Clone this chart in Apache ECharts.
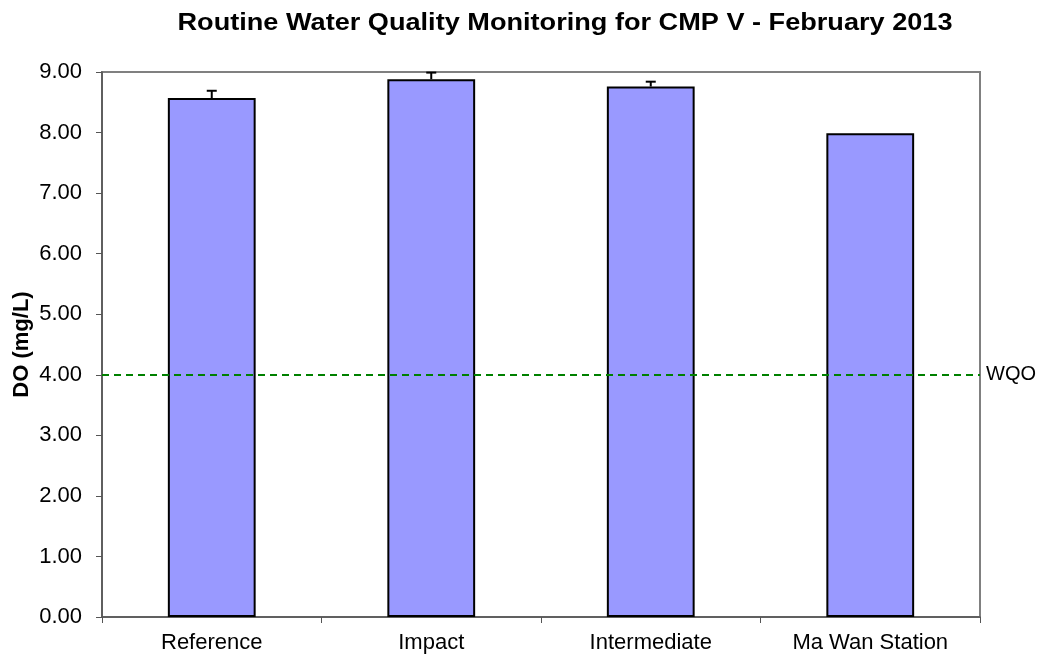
<!DOCTYPE html>
<html>
<head>
<meta charset="utf-8">
<title>Routine Water Quality Monitoring</title>
<script src="https://cdn.jsdelivr.net/npm/echarts@6/dist/echarts.min.js"></script>
<style>
  html, body { margin: 0; padding: 0; background: #fff; }
  #chart { width: 1042px; height: 656px; }
</style>
</head>
<body>
<div id="chart"></div>
<script>
// stations and DO means / upper error (mg/L)
const stations = ["Reference", "Impact", "Intermediate", "Ma Wan Station"];
const doValues = [8.57, 8.88, 8.76, 7.99];
const errorTop = [8.69, 8.99, 8.84, 7.99];
const yTicks = [0, 1, 2, 3, 4, 5, 6, 7, 8, 9];
const wqoLevel = 4;

const font = "Liberation Sans, Arial, sans-serif";

const chart = echarts.init(document.getElementById("chart"));

const option = {
  animation: false,
  backgroundColor: "#fff",
  graphic: [
    {
      type: "text",
      x: 565,
      y: 23,
      scaleX: 1.13,
      style: {
        text: "Routine Water Quality Monitoring for CMP V - February 2013",
        font: "bold 24px " + font,
        fill: "#000",
        textAlign: "center",
        textVerticalAlign: "middle",
      },
    },
  ],
  grid: {
    left: 102,
    right: 62,
    top: 72,
    bottom: 39,
    outerBoundsMode: "none",
    containLabel: false,
    show: true,
    borderColor: "#808080",
    borderWidth: 2,
  },
  xAxis: {
    type: "category",
    data: stations,
    boundaryGap: true,
    axisLine: { lineStyle: { color: "#555", width: 1.5 } },
    axisTick: { show: true, alignWithLabel: false, length: 6, lineStyle: { color: "#555" } },
    axisLabel: { color: "#000", fontSize: 22, fontFamily: font, margin: 15 },
  },
  yAxis: {
    type: "value",
    min: yTicks[0],
    max: yTicks[yTicks.length - 1],
    interval: 1,
    name: "DO (mg/L)",
    nameLocation: "middle",
    nameGap: 69,
    nameMoveOverlap: false,
    nameTextStyle: { color: "#000", fontSize: 22, fontWeight: "bold", fontFamily: font },
    axisLine: { show: true, lineStyle: { color: "#555", width: 1.5 } },
    axisTick: { show: true, length: 6, lineStyle: { color: "#555" } },
    splitLine: { show: false },
    axisLabel: {
      color: "#000",
      fontSize: 22,
      fontFamily: font,
      margin: 20,
      formatter: (v) => v.toFixed(2),
    },
  },
  series: [
    {
      type: "bar",
      data: doValues,
      barWidth: "40%",
      itemStyle: { color: "#9999FF", borderColor: "#000", borderWidth: 2 },
      markLine: {
        silent: true,
        symbol: "none",
        data: [{ yAxis: wqoLevel }],
        lineStyle: { color: "#008000", type: [7, 5], width: 2 },
        label: {
          show: true,
          position: "end",
          formatter: "WQO",
          color: "#000",
          fontSize: 20,
          fontFamily: font,
          distance: 6,
        },
      },
      z: 2,
    },
    {
      // error bars (upper only)
      type: "custom",
      data: doValues.map((v, i) => [i, v, errorTop[i]]),
      renderItem: function (params, api) {
        const base = api.coord([api.value(0), api.value(1)]);
        const top = api.coord([api.value(0), api.value(2)]);
        if (Math.abs(base[1] - top[1]) < 1) return null;
        const half = 5;
        const st = { stroke: "#000", lineWidth: 2 };
        return {
          type: "group",
          children: [
            { type: "line", shape: { x1: base[0], y1: base[1], x2: top[0], y2: top[1] }, style: st },
            { type: "line", shape: { x1: top[0] - half, y1: top[1], x2: top[0] + half, y2: top[1] }, style: st },
          ],
        };
      },
      z: 3,
    },
  ],
};

chart.setOption(option);
</script>
</body>
</html>
